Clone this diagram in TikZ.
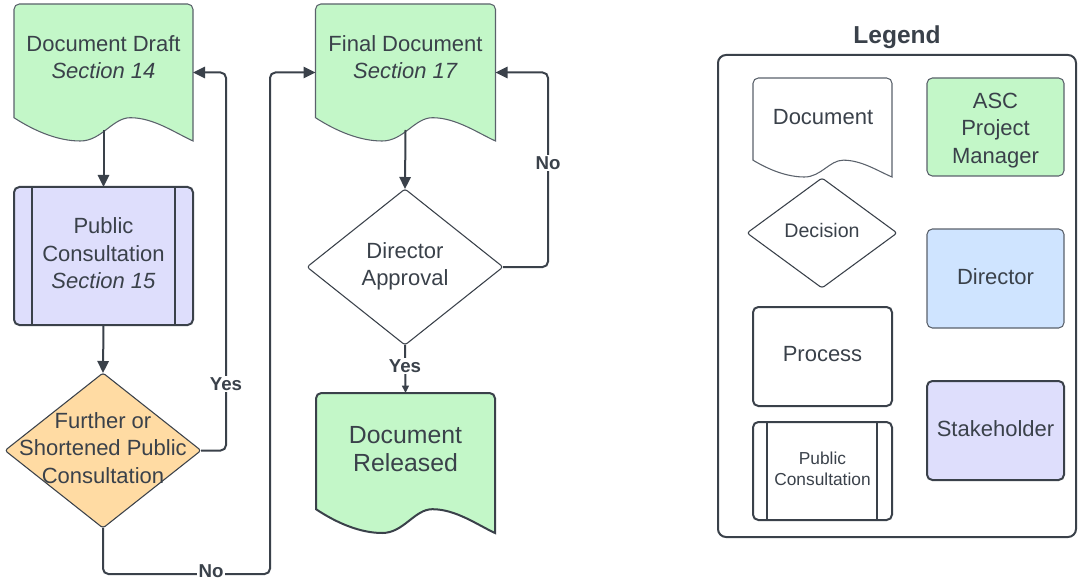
\documentclass[tikz,border=0pt]{standalone}
\usepackage{fontspec}
\setmainfont{Liberation Sans}
\usetikzlibrary{arrows.meta,shapes.geometric,calc}
\definecolor{ink}{HTML}{3A414A}
\definecolor{edge}{HTML}{5A616B}
\definecolor{mgrfill}{HTML}{C3F7C8}
\definecolor{stkfill}{HTML}{DEDEFC}
\definecolor{dirfill}{HTML}{CFE4FF}
\definecolor{decfill}{HTML}{FFDBA3}
\newdimen\pxu \pxu=0.75pt
\tikzset{
  txt/.style={align=center,inner sep=0pt,text=ink,font=\fontsize{16.5}{20.6}\selectfont},
  bigtxt/.style={txt,font=\fontsize{18.6}{21}\selectfont},
  smalltxt/.style={txt,font=\fontsize{13}{15.8}\selectfont},
  dectxt/.style={txt,font=\fontsize{14.7}{18}\selectfont},
  lbl/.style={fill=white,inner sep=1pt,text=ink,font=\fontsize{14}{16}\selectfont\bfseries},
  frame/.style={draw=none,inner sep=0pt,outer sep=0pt,rectangle},
  docline/.style={draw=edge,line width=0.8pt},
  procbox/.style={rectangle,draw=ink,line width=1.5pt,rounded corners=4pt,inner sep=0pt,outer sep=0pt,text=ink,align=center,font=\fontsize{16.5}{20.6}\selectfont},
  rolebox/.style={procbox,draw=edge,line width=0.8pt},
  decision/.style={diamond,draw=ink,line width=0.8pt,rounded corners=2pt,inner sep=0pt,outer sep=0pt},
  conn/.style={draw=ink,line width=1.5pt,rounded corners=4pt,-{Triangle[length=9pt,width=8.5pt]}},
  plain/.style={draw=ink,line width=1.5pt,rounded corners=4pt},
}
% document symbol: rectangle with rounded top corners and a wavy bottom edge
\newcommand\docoutline[2]{%
  \path[#2] let \p1=(#1.north west), \p2=(#1.south east),
      \n1={\x2-\x1}, \n2={0.17*(\y1-\y2)} in
    (\x1,\y2+\n2) [rounded corners=4pt] -- (\x1,\y1) -- (\x2,\y1) [sharp corners] -- (\x2,\y2)
    .. controls (\x1+0.9*\n1,\y2+0.35*\n2) and (\x1+0.78*\n1,\y2+\n2) .. (\x1+0.65*\n1,\y2+\n2)
    .. controls (\x1+0.55*\n1,\y2+\n2) and (\x1+0.49*\n1,\y2) .. (\x1+0.37*\n1,\y2)
    .. controls (\x1+0.25*\n1,\y2) and (\x1+0.12*\n1,\y2+0.4*\n2) .. cycle;}
% predefined-process bars
\newcommand\sidebars[3]{%
  \draw[draw=ink,line width=1.5pt] ([xshift=#2]#1.north west) -- ([xshift=#2]#1.south west);
  \draw[draw=ink,line width=1.5pt] ([xshift=-#3]#1.north east) -- ([xshift=-#3]#1.south east);}
\begin{document}
\begin{tikzpicture}[x=0.75pt,y=-0.75pt]
\useasboundingbox (0,0) rectangle (1078,581);

% ---------------- flow chart ----------------
\node[frame,minimum width=179*\pxu,minimum height=137*\pxu] (d1) at (103.5,72.5) {};
\docoutline{d1}{fill=mgrfill,docline}
\node[txt] (d1t) at (103.5,57) {Document Draft\\\textit{Section 14}};

\node[procbox,fill=stkfill,minimum width=179*\pxu,minimum height=138*\pxu] (pc) at (103.5,256) {};
\sidebars{pc}{13.5pt}{13.5pt}
\node[txt] (pct) at (103.5,253.5) {Public\\Consultation\\\textit{Section 15}};

\node[decision,fill=decfill,minimum width=196*\pxu,minimum height=155*\pxu] (q1) at (103,450.5) {};
\node[txt] (q1t) at (103,448) {Further or\\Shortened Public\\Consultation};

\node[frame,minimum width=180*\pxu,minimum height=137*\pxu] (fd) at (405.5,72.5) {};
\docoutline{fd}{fill=mgrfill,docline}
\node[txt] (fdt) at (405.5,57) {Final Document\\\textit{Section 17}};

\node[decision,fill=white,minimum width=196*\pxu,minimum height=156*\pxu] (q2) at (405,267) {};
\node[txt] (q2t) at (405,266.5) {Director\\Approval};

\node[frame,minimum width=179*\pxu,minimum height=140*\pxu] (dr) at (405.5,463) {};
\docoutline{dr}{fill=mgrfill,draw=ink,line width=1.5pt}
\node[bigtxt] (drt) at (405.5,449) {Document\\Released};

% connectors
\coordinate (yesx) at (226,0);
\coordinate (nox) at (270,574);
\coordinate (nobx) at (548,0);
\draw[conn] ($(d1.south)+(0,-11)$) -- (pc.north);
\draw[conn] (pc.south) -- (q1.north);
\draw[conn] (q1.east) -| (yesx |- d1.east) -- (d1.east);
\node[lbl] (lyes1) at (226,384) {Yes};
\draw[conn] (q1.south) |- (nox) |- (fd.west);
\node[lbl] (lno1) at (211,571.5) {No};
\draw[conn] ($(fd.south)+(0,-11)$) -- (q2.north);
\draw[conn] (q2.east) -| (nobx |- fd.east) -- (fd.east);
\node[lbl] (lno2) at (548,163) {No};
\draw[plain,-{Triangle[length=5.5pt,width=5pt]}] (q2.south) -- (dr.north);
\node[lbl] (lyes2) at (405,366) {Yes};

% ---------------- legend ----------------
\node[text=ink,inner sep=0pt,font=\fontsize{18.4}{20}\selectfont\bfseries] (lgt) at (897,37.5) {Legend};
\node[procbox,minimum width=358*\pxu,minimum height=482*\pxu,rounded corners=6pt] (lg) at (897,296) {};

\node[frame,minimum width=139*\pxu,minimum height=99*\pxu] (ldoc) at (822.5,127.5) {};
\docoutline{ldoc}{fill=white,docline}
\node[txt] (ldoct) at (823,117) {Document};

\node[decision,fill=white,minimum width=150*\pxu,minimum height=110*\pxu] (ldec) at (822,233) {};
\node[dectxt] (ldect) at (822,230.5) {Decision};

\node[procbox,minimum width=139*\pxu,minimum height=99*\pxu] (lproc) at (822.5,356.5) {};
\node[txt] (lproct) at (822.5,354.5) {Process};

\node[procbox,minimum width=139*\pxu,minimum height=98*\pxu] (lpc) at (822.5,471) {};
\sidebars{lpc}{10.5pt}{11pt}
\node[smalltxt] (lpct) at (822.5,469) {Public\\Consultation};

\node[rolebox,fill=mgrfill,minimum width=137*\pxu,minimum height=98*\pxu] (lasc) at (995.5,127) {};
\node[txt] (lasct) at (995.5,130.5) {ASC\\Project\\Manager};
\node[rolebox,fill=dirfill,minimum width=137*\pxu,minimum height=99*\pxu] (ldir) at (995.5,278.5) {};
\node[txt] (ldirt) at (995.5,276.5) {Director};
\node[procbox,fill=stkfill,minimum width=137*\pxu,minimum height=99*\pxu] (lsh) at (995.5,430.5) {};
\node[txt] (lsht) at (995.5,428.5) {Stakeholder};
\end{tikzpicture}
\end{document}
